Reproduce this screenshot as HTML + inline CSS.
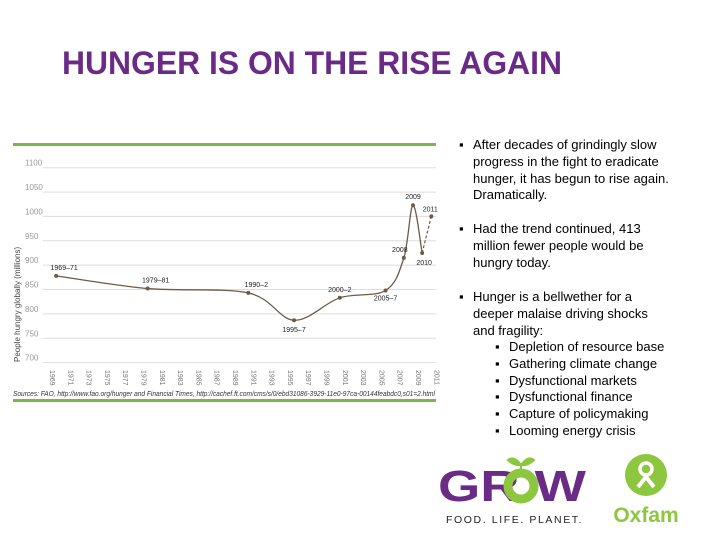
<!DOCTYPE html>
<html><head><meta charset="utf-8"><style>
body{margin:0;width:720px;height:540px;background:#fff;position:relative;overflow:hidden;font-family:"Liberation Sans",sans-serif}
.t{position:absolute;font-size:13px;color:#000;line-height:16.8px;white-space:nowrap}
</style></head><body>
<svg width="560" height="50" style="position:absolute;left:60px;top:40px"><text x="2" y="34" font-family="Liberation Sans" font-weight="bold" font-size="32" fill="#6a2b86" textLength="500" lengthAdjust="spacingAndGlyphs">HUNGER IS ON THE RISE AGAIN</text></svg>
<svg id="chart" width="440" height="420" style="position:absolute;left:0;top:0"></svg>
<div>
<div class="t" style="left:459px;top:137px">▪</div>
<div class="t" style="left:473px;top:137px">After decades of grindingly slow<br>progress in the fight to eradicate<br>hunger, it has begun to rise again.<br>Dramatically.</div>
<div class="t" style="left:459px;top:221px">▪</div>
<div class="t" style="left:473px;top:221px">Had the trend continued, 413<br>million fewer people would be<br>hungry today.</div>
<div class="t" style="left:459px;top:289px">▪</div>
<div class="t" style="left:473px;top:289px">Hunger is a bellwether for a<br>deeper malaise driving shocks<br>and fragility:</div>
<div class="t" style="left:495px;top:339px">▪<br>▪<br>▪<br>▪<br>▪<br>▪</div>
<div class="t" style="left:509px;top:339px">Depletion of resource base<br>Gathering climate change<br>Dysfunctional markets<br>Dysfunctional finance<br>Capture of policymaking<br>Looming energy crisis</div>
</div>
<svg width="160" height="90" style="position:absolute;left:436px;top:450px">
<text x="2" y="51" font-family="Liberation Sans" font-weight="bold" font-size="44" fill="#6a2b86" textLength="148" lengthAdjust="spacingAndGlyphs">GR W</text>
<circle cx="85" cy="36" r="13" fill="none" stroke="#8dc63f" stroke-width="9"/>
<path d="M85 23 L85 13 M85 15 Q78 5 72 10 Q78 16 85 15 M85 15 Q92 5 98 10 Q92 16 85 15" stroke="#8dc63f" stroke-width="2" fill="#8dc63f"/>
<text x="10" y="73" font-family="Liberation Sans" font-size="10.5" fill="#222" letter-spacing="1.6">FOOD. LIFE. PLANET.</text>
</svg>
<svg width="90" height="90" style="position:absolute;left:600px;top:450px">
<circle cx="46" cy="25" r="21" fill="#8dc63f"/>
<circle cx="46" cy="19" r="6" fill="none" stroke="#fff" stroke-width="3.5"/>
<path d="M38 37 L46 27 L54 37" stroke="#fff" stroke-width="4" fill="none"/>
<text x="46" y="72" text-anchor="middle" font-family="Liberation Sans" font-weight="bold" font-size="21" fill="#8dc63f">Oxfam</text>
</svg>
<script>
const yTicks=[1100,1050,1000,950,900,850,800,750,700];
const xYears=[1969,1971,1973,1975,1977,1979,1981,1983,1985,1987,1989,1991,1993,1995,1997,1999,2001,2003,2005,2007,2009,2011];
const ptYears=[1970,1980,1991,1996,2001,2006,2008,2009,2010];
const ptValues=[878,852,843,787,833,848,915,1023,925];
const ptLabels=["1969–71","1979–81","1990–2","1995–7","2000–2","2005–7","2008","2009","2010"];
const projYears=[2010,2011];
const projValues=[925,1000];
const NS="http://www.w3.org/2000/svg";
const svg=document.getElementById('chart');
const X=y=>47+(y-1969)*9.15;
const Y=v=>167.7+(1100-v)*0.4873;
function mk(t,a,txt){const e=document.createElementNS(NS,t);for(const k in a)e.setAttribute(k,a[k]);if(txt!==undefined)e.textContent=txt;svg.appendChild(e);return e;}
let e;
e=mk('rect',{x:13,y:143,width:423,height:3,fill:'#7ab648'});


e=mk('rect',{x:13,y:399,width:423,height:3,fill:'#7ab648'});


yTicks.forEach(v=>{
 e=mk('line',{x1:43,x2:436,y1:Y(v),y2:Y(v),stroke:'#ddd','stroke-width':1});
 
 
 e=mk('text',{x:25,y:Y(v)-2,'font-size':8,fill:'#999','font-family':'Liberation Sans'},v);
 
 
});
xYears.forEach(y=>{
 e=mk('text',{transform:`translate(${X(y)+3},${370}) rotate(90)`,'font-size':7,fill:'#777','font-family':'Liberation Sans'},y);
 
 
});
e=mk('text',{transform:'translate(20,362) rotate(-90)','font-size':8,fill:'#444','font-family':'Liberation Sans'},'People hungry globally (millions)');


const P=ptYears.map((y,i)=>[X(y),Y(ptValues[i])]);
let d=`M${P[0][0]},${P[0][1]}`;
for(let i=0;i<P.length-1;i++){const p0=P[i-1]||P[i],p1=P[i],p2=P[i+1],p3=P[i+2]||p2;
 d+=` C${p1[0]+(p2[0]-p0[0])/6},${p1[1]+(p2[1]-p0[1])/6} ${p2[0]-(p3[0]-p1[0])/6},${p2[1]-(p3[1]-p1[1])/6} ${p2[0]},${p2[1]}`;}
e=mk('path',{d:d,fill:'none',stroke:'#6e5a48','stroke-width':1.3});


e=mk('line',{x1:X(projYears[0]),y1:Y(projValues[0]),x2:X(projYears[1]),y2:Y(projValues[1]),stroke:'#6e5a48','stroke-width':1.2,'stroke-dasharray':'3,2'});


const lo=[[8,-6],[8,-6],[8,-6],[0,12],[0,-6],[0,10],[-4,-6],[0,-6],[2,12]];
P.forEach((p,i)=>{
 e=mk('circle',{cx:p[0],cy:p[1],r:2,fill:'#6e5a48'});
 
 
 e=mk('text',{x:p[0]+lo[i][0],y:p[1]+lo[i][1],'font-size':7,'text-anchor':'middle',fill:'#222','font-family':'Liberation Sans'},ptLabels[i]);
 
 
});
e=mk('circle',{cx:X(projYears[1]),cy:Y(projValues[1]),r:2,fill:'#6e5a48'});


e=mk('text',{x:X(projYears[1])-1,y:Y(projValues[1])-5,'font-size':7,'text-anchor':'middle',fill:'#222','font-family':'Liberation Sans'},'2011');


e=mk('text',{x:13,y:396,'font-size':7,fill:'#333','font-style':'italic','font-family':'Liberation Sans',textLength:422,lengthAdjust:'spacingAndGlyphs'},'Sources: FAO, http://www.fao.org/hunger and Financial Times, http://cachef.ft.com/cms/s/0/ebd31086-3929-11e0-97ca-00144feabdc0,s01=2.html');


</script>
</body></html>
